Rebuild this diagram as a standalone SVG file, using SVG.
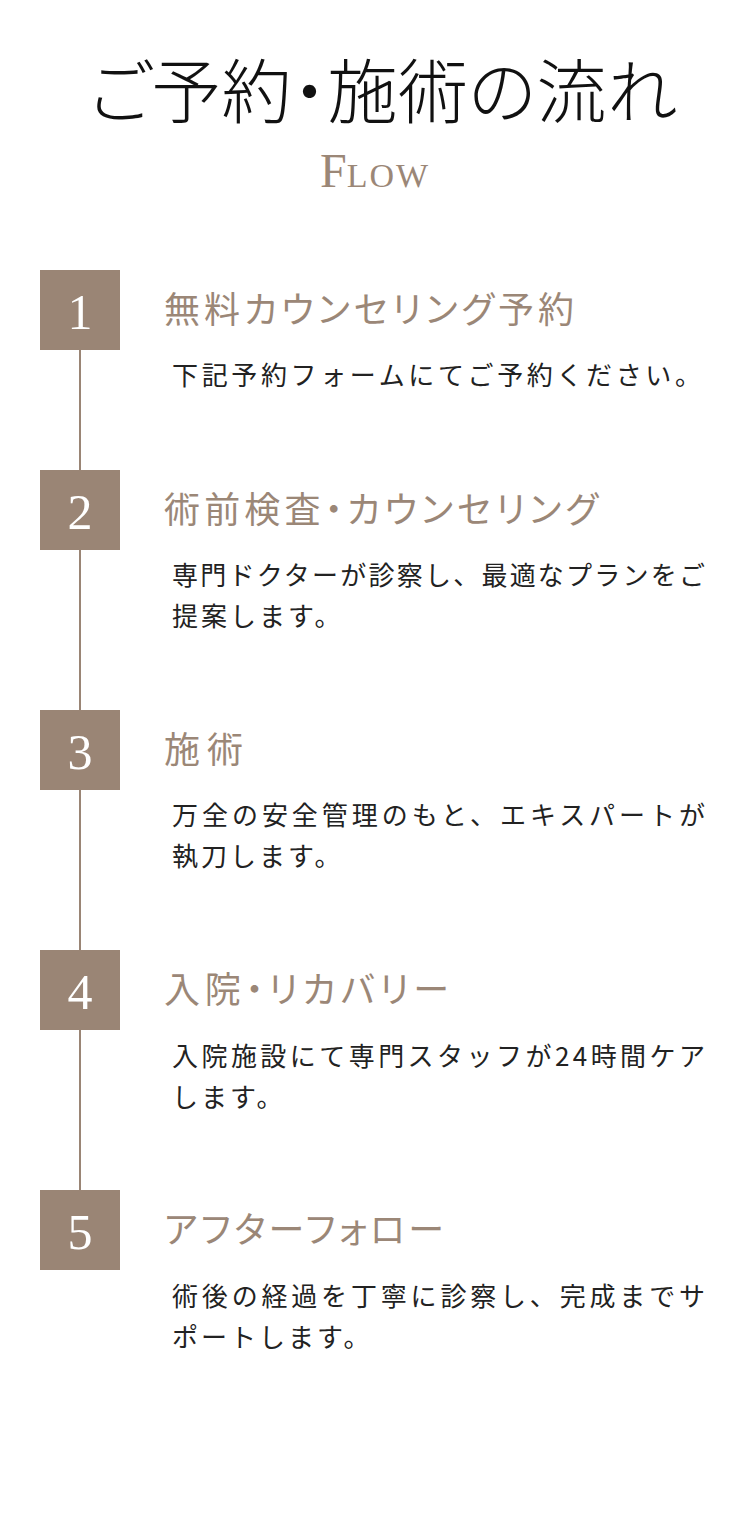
<svg xmlns="http://www.w3.org/2000/svg" width="750" height="1520" viewBox="0 0 750 1520">
<style>
.title{font-family:"Noto Sans CJK JP","Noto Sans CJK SC",sans-serif;font-size:70px;font-weight:300;fill:#111111;font-feature-settings:"palt"}
.flow{font-family:"Liberation Serif","DejaVu Serif",serif;fill:#9b8777}
.box{fill:#9a8575}
.num{font-family:"Liberation Serif","DejaVu Serif",serif;font-size:50px;fill:#ffffff;text-anchor:middle}
.head{font-family:"Noto Sans CJK JP","Noto Sans CJK SC",sans-serif;font-size:36px;font-weight:400;fill:#9b8777;font-feature-settings:"palt"}
.desc{font-family:"Noto Sans CJK JP","Noto Sans CJK SC",sans-serif;font-size:26px;font-weight:400;fill:#222222;letter-spacing:3px}
.conn{stroke:#9a8575;stroke-width:2;fill:none}
</style>
<rect width="750" height="1520" fill="#ffffff"/>
<g id="header">
<text class="title" x="89" y="118" textLength="588" lengthAdjust="spacing">ご予約・施術の流れ</text>
<text class="flow" x="320" y="187"><tspan font-size="48">F</tspan><tspan font-size="34" letter-spacing="2">LOW</tspan></text>
</g>
<g id="connectors">
<line class="conn" x1="80" y1="350" x2="80" y2="1190"/>
</g>
<g id="step1">
<rect class="box" x="40" y="270" width="80" height="80"/>
<text class="num" x="80" y="329">1</text>
<text class="head" x="164" y="323" textLength="410" lengthAdjust="spacing">無料カウンセリング予約</text>
<text class="desc" x="172" y="385" textLength="532" lengthAdjust="spacing">下記予約フォームにてご予約ください。</text>
</g>
<g id="step2">
<rect class="box" x="40" y="470" width="80" height="80"/>
<text class="num" x="80" y="529">2</text>
<text class="head" x="164" y="523" textLength="434" lengthAdjust="spacing">術前検査・カウンセリング</text>
<text class="desc" x="172" y="585" textLength="536" lengthAdjust="spacing">専門ドクターが診察し、最適なプランをご</text>
<text class="desc" x="172" y="626">提案します。</text>
</g>
<g id="step3">
<rect class="box" x="40" y="710" width="80" height="80"/>
<text class="num" x="80" y="769">3</text>
<text class="head" x="164" y="763" textLength="79" lengthAdjust="spacing">施術</text>
<text class="desc" x="172" y="825" textLength="536" lengthAdjust="spacing">万全の安全管理のもと、エキスパートが</text>
<text class="desc" x="172" y="866">執刀します。</text>
</g>
<g id="step4">
<rect class="box" x="40" y="950" width="80" height="80"/>
<text class="num" x="80" y="1009">4</text>
<text class="head" x="164" y="1003" textLength="285" lengthAdjust="spacing">入院・リカバリー</text>
<text class="desc" x="172" y="1066" textLength="536" lengthAdjust="spacing">入院施設にて専門スタッフが24時間ケア</text>
<text class="desc" x="172" y="1107">します。</text>
</g>
<g id="step5">
<rect class="box" x="40" y="1190" width="80" height="80"/>
<text class="num" x="80" y="1249">5</text>
<text class="head" x="164" y="1243" textLength="280" lengthAdjust="spacing">アフターフォロー</text>
<text class="desc" x="172" y="1306" textLength="536" lengthAdjust="spacing">術後の経過を丁寧に診察し、完成までサ</text>
<text class="desc" x="172" y="1347">ポートします。</text>
</g>
</svg>
